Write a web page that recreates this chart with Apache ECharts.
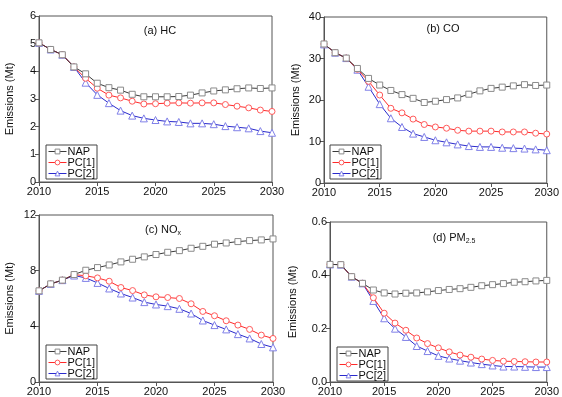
<!DOCTYPE html>
<html><head><meta charset="utf-8">
<script src="https://cdn.jsdelivr.net/npm/echarts@6/dist/echarts.min.js"></script>
<style>html,body{margin:0;padding:0;background:#fff}#c{width:562px;height:397px}</style>
</head><body><div id="c"></div>
<script>
var years = [2010,2011,2012,2013,2014,2015,2016,2017,2018,2019,2020,2021,2022,2023,2024,2025,2026,2027,2028,2029,2030];
var seriesNames = ['NAP','PC[1]','PC[2]'];

var hcNAP = [5.03,4.79,4.60,4.16,3.91,3.57,3.41,3.32,3.17,3.08,3.08,3.08,3.09,3.14,3.22,3.29,3.33,3.37,3.40,3.38,3.40];
var hcPC1 = [5.03,4.79,4.60,4.16,3.75,3.39,3.14,3.04,2.92,2.82,2.83,2.85,2.86,2.85,2.86,2.86,2.80,2.74,2.68,2.60,2.55];
var hcPC2 = [5.03,4.79,4.60,4.16,3.59,3.15,2.85,2.58,2.40,2.30,2.24,2.19,2.17,2.12,2.12,2.09,2.02,1.98,1.94,1.84,1.78];

var coNAP = [33.5,31.4,30.1,27.6,25.2,23.6,22.3,21.3,20.4,19.4,19.7,20.1,20.5,21.4,22.2,22.8,23.1,23.4,23.7,23.5,23.6];
var coPC1 = [33.5,31.4,30.1,27.4,24.5,21.2,18.0,16.9,15.4,14.1,13.5,13.2,12.7,12.5,12.5,12.5,12.3,12.3,12.3,12.0,11.8];
var coPC2 = [33.4,31.4,30.1,27.3,23.2,19.0,15.6,13.5,11.9,11.1,10.3,9.8,9.3,8.9,8.7,8.7,8.5,8.4,8.3,8.1,7.9];

var noNAP = [6.55,7.05,7.32,7.72,8.03,8.22,8.41,8.63,8.82,8.99,9.16,9.32,9.44,9.61,9.75,9.90,9.99,10.09,10.16,10.21,10.28];
var noPC1 = [6.55,7.05,7.32,7.72,7.63,7.48,7.24,6.79,6.57,6.26,6.12,6.07,6.00,5.62,5.07,4.76,4.40,4.09,3.78,3.37,3.13];
var noPC2 = [6.55,7.05,7.32,7.65,7.48,7.12,6.72,6.36,6.07,5.74,5.57,5.45,5.26,4.92,4.42,4.09,3.78,3.44,3.13,2.73,2.49];

var pmNAP = [0.441,0.440,0.395,0.370,0.345,0.334,0.330,0.333,0.334,0.338,0.343,0.347,0.350,0.355,0.361,0.365,0.369,0.374,0.376,0.379,0.381];
var pmPC1 = [0.441,0.440,0.395,0.370,0.316,0.258,0.221,0.194,0.165,0.144,0.128,0.113,0.101,0.093,0.086,0.081,0.078,0.077,0.076,0.075,0.075];
var pmPC2 = [0.441,0.440,0.395,0.370,0.304,0.239,0.200,0.169,0.135,0.116,0.098,0.088,0.080,0.073,0.067,0.062,0.058,0.058,0.057,0.056,0.056];

var yTicks = [
  {min:0,max:6,interval:1,dec:0},
  {min:0,max:40,interval:10,dec:0},
  {min:0,max:12,interval:4,dec:0},
  {min:0,max:0.6,interval:0.2,dec:1}
];
var panelData = [[hcNAP,hcPC1,hcPC2],[coNAP,coPC1,coPC2],[noNAP,noPC1,noPC2],[pmNAP,pmPC1,pmPC2]];

var grids = [
  {left:39, top:16, width:233, height:166},
  {left:324, top:17, width:230, height:166},
  {left:39, top:215, width:234, height:167},
  {left:330, top:222, width:225, height:161}
];
var nameGaps = [24,23,24,32];
var legendPos = [
  {left:46, top:145},
  {left:330, top:145},
  {left:46, top:345},
  {left:337, top:347}
];
var titles = [
  {text:'(a) HC', x:155, y:20},
  {text:'(b) CO', x:438, y:18},
  {text:'(c) NO{sub|x}', x:158, y:218},
  {text:'(d) PM{sub|2.5}', x:449, y:226}
];

var lineColors = ['#3a3a3a','#ff2a2a','#2a2acc'];
var markColors = ['#8a8a8a','#ff5a5a','#8080e8'];
var symbols = ['rect','circle','triangle'];
var axisCol = '#555';
var font = 'Liberation Sans, Arial, sans-serif';

var option = {
  backgroundColor:'#fff',
  animation:false,
  textStyle:{fontFamily:font},
  grid: grids.map(function(g){return Object.assign({show:true,borderColor:axisCol,borderWidth:1,backgroundColor:'transparent'},g);}),
  title: titles.map(function(t){return {text:t.text,left:t.x,top:t.y,textAlign:'center',
    textStyle:{fontSize:11,fontWeight:'normal',color:'#111',fontFamily:font,
      rich:{sub:{fontSize:7,color:'#111',fontFamily:font,padding:[7,0,0,0]}}}};}),
  xAxis: grids.map(function(g,i){return {type:'value',gridIndex:i,min:2010,max:2030,interval:5,
    axisLine:{onZero:false,lineStyle:{color:axisCol,width:1}},
    axisTick:{show:true,inside:false,length:4,lineStyle:{color:axisCol}},
    axisLabel:{color:'#111',fontSize:11,margin:4,fontFamily:font,formatter:function(v){return String(v);}},
    splitLine:{show:false}};}),
  yAxis: yTicks.map(function(t,i){return {type:'value',gridIndex:i,min:t.min,max:t.max,interval:t.interval,
    name:'Emissions (Mt)',nameLocation:'middle',nameGap:nameGaps[i],
    nameTextStyle:{color:'#111',fontSize:11,fontFamily:font},
    axisLine:{show:true,lineStyle:{color:axisCol,width:1}},
    axisTick:{show:true,inside:false,length:4,lineStyle:{color:axisCol}},
    axisLabel:{color:'#111',fontSize:11,margin:3,fontFamily:font,formatter:function(v){return v.toFixed(t.dec);}},
    splitLine:{show:false}};}),
  legend: legendPos.map(function(p){return {left:p.left,top:p.top,orient:'vertical',
    data:seriesNames.map(function(n,si){return {name:n,
      itemStyle:{color:'#fff',borderColor:markColors[si],borderWidth:1},
      lineStyle:{color:lineColors[si],width:1}};}),
    itemWidth:18,itemHeight:6,itemGap:0,padding:[1,2,0,2],
    borderColor:'#444',borderWidth:1,backgroundColor:'#fff',selectedMode:false,
    textStyle:{fontSize:11,lineHeight:10,height:10,color:'#111',padding:[0,0,0,-4],fontFamily:font}};}),
  series: []
};

panelData.forEach(function(arrs,pi){
  arrs.forEach(function(vals,si){
    option.series.push({
      type:'line',name:seriesNames[si],xAxisIndex:pi,yAxisIndex:pi,
      data: years.map(function(y,k){return [y,vals[k]];}),
      symbol:symbols[si],symbolSize:si===2?7:6,showAllSymbol:true,
      lineStyle:{color:lineColors[si],width:1},
      itemStyle:{color:'#fff',borderColor:markColors[si],borderWidth:1},
      z: 3-si
    });
  });
});

var chart = echarts.init(document.getElementById('c'),null,{renderer:'canvas'});
chart.setOption(option);
</script></body></html>
